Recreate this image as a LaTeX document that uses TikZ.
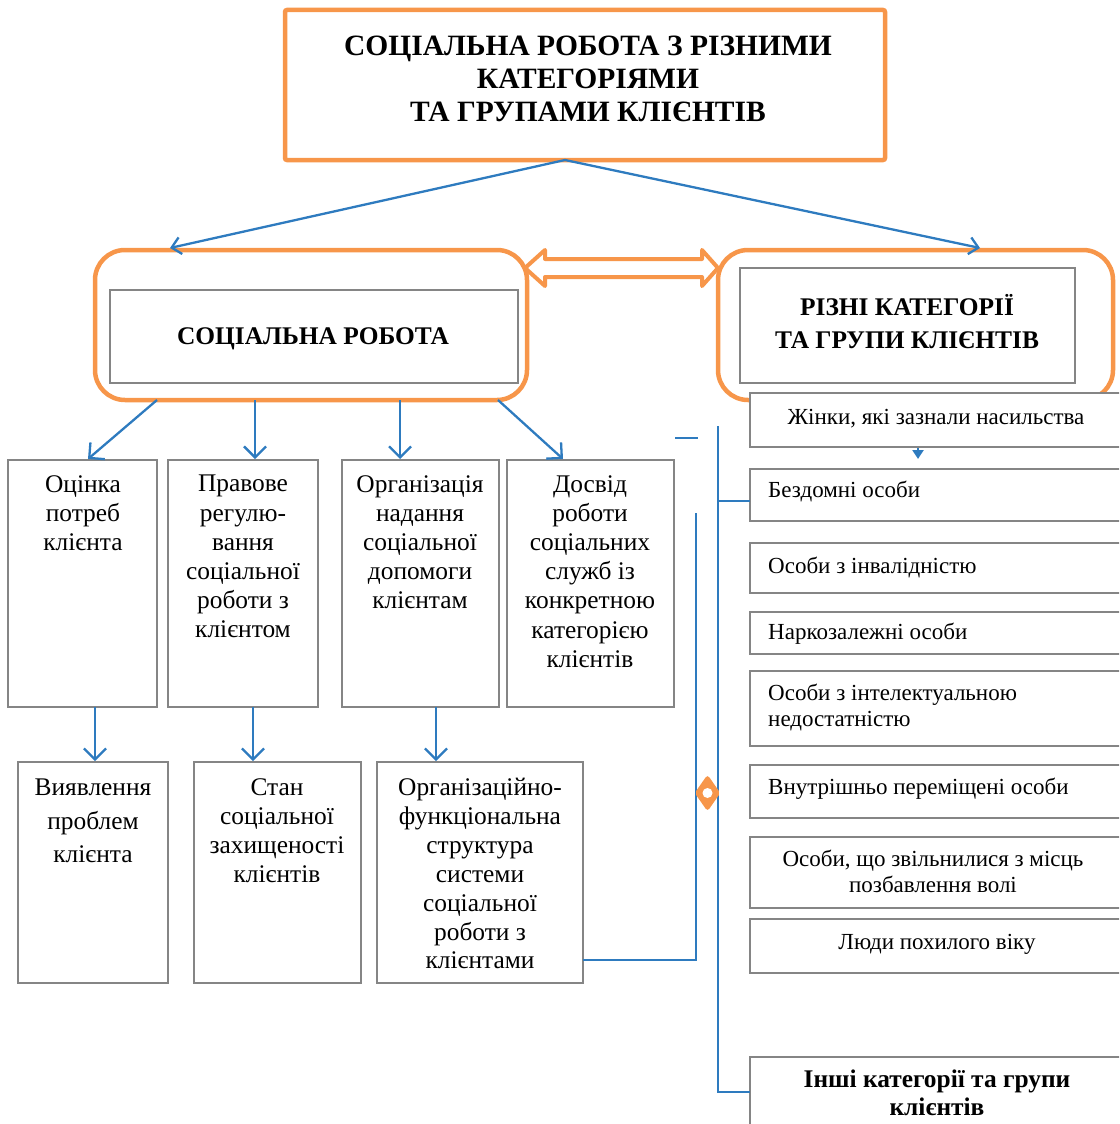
\documentclass[tikz,border=0pt]{standalone}
\usepackage{fontspec}
\setmainfont{Liberation Serif}
\usetikzlibrary{arrows.meta,calc,shapes.geometric}
\definecolor{orC}{HTML}{F7964A}
\definecolor{blC}{HTML}{2E7BBF}
\definecolor{grC}{HTML}{858585}
\newcommand\mkbox[6]{\node[#1, minimum width={#4-#2}, minimum height={#5-#3}] (#6) at ({(#2+#4)/2},{(#3+#5)/2}) {};}
\begin{document}
\begin{tikzpicture}[x=1pt,y=-1pt,
  obox/.style={draw=orC, line width=4.5pt, inner sep=0pt, outer sep=0pt},
  rbox/.style={obox, rounded corners=30pt},
  gbox/.style={draw=grC, line width=1.4pt, fill=white, inner sep=0pt, outer sep=0pt},
  conn/.style={draw=blC, line width=2.3pt},
  arr/.style={conn, -{Straight Barb[length=11pt,width=22pt]}},
  tarr/.style={conn, -{Straight Barb[length=9pt,width=17pt]}},
  body/.style={inner sep=0pt, align=center, font=\fontsize{25.4}{29.2}\selectfont, execute at begin node=\strut},
  rbody/.style={inner sep=0pt, align=left, font=\fontsize{23}{26}\selectfont, execute at begin node=\strut},
  ttl/.style={inner sep=0pt, align=center, font=\bfseries\fontsize{29.5}{33}\selectfont, execute at begin node=\strut},
  stl/.style={inner sep=0pt, align=center, font=\bfseries\fontsize{25.4}{33}\selectfont, execute at begin node=\strut},
]
\useasboundingbox (0,0) rectangle (1119,1124);
\clip (0,0) rectangle (1119,1124);

% top box
\node[obox, rounded corners=2pt, minimum width=600pt, minimum height=150pt] (top) at (585,85) {};
\node[ttl, anchor=north] (topt) at (588,36) {СОЦІАЛЬНА РОБОТА З РІЗНИМИ\\КАТЕГОРІЯМИ\\ТА ГРУПАМИ КЛІЄНТІВ};

% second level
\mkbox{rbox}{95}{250}{527}{400}{lbox}
\mkbox{gbox}{110}{290}{518}{383}{lin}
\node[stl, anchor=north] (lint) at (313,321.5) {СОЦІАЛЬНА РОБОТА};
\mkbox{rbox}{718}{250}{1113}{400}{rbox}
\mkbox{gbox}{740}{268}{1075}{383}{rin}
\node[stl, anchor=north] (rint) at (907,294) {РІЗНІ КАТЕГОРІЇ\\ТА ГРУПИ КЛІЄНТІВ};

% top connectors
\draw[tarr] ($(top.south)+(-20,0)$) -- ($(lbox.north west)+(75,-2)$);
\draw[tarr] ($(top.south)+(-20,0)$) -- ($(rbox.north west)+(262,-2)$);

% double arrow
\draw[orC, line width=4pt, fill=white, line join=round]
  (525,268) -- (545,250) -- (545,259) -- (702,259) -- (702,250) -- (718,268)
  -- (702,286) -- (702,277) -- (545,277) -- (545,286) -- cycle;

% row 1
\mkbox{gbox}{8}{460}{157}{707}{b1}
\mkbox{gbox}{168}{460}{318}{707}{b2}
\mkbox{gbox}{342}{460}{499}{707}{b3}
\mkbox{gbox}{507}{460}{674}{707}{b4}
\node[body, anchor=north] (b1t) at (83,475) {Оцінка\\потреб\\клієнта};
\node[body, anchor=north] (b2t) at (243,475) {Правове\\регулю-\\вання\\соціальної\\роботи з\\клієнтом};
\node[body, anchor=north] (b3t) at (420,475) {Організація\\надання\\соціальної\\допомоги\\клієнтам};
\node[body, anchor=north] (b4t) at (590,475) {Досвід\\роботи\\соціальних\\служб із\\конкретною\\категорією\\клієнтів};

% row 2
\mkbox{gbox}{18}{762}{168}{983}{c1}
\mkbox{gbox}{194}{762}{361}{983}{c2}
\mkbox{gbox}{377}{762}{583}{983}{c3}
\node[body, anchor=north, font=\fontsize{25.4}{33.5}\selectfont] (c1t) at (93,779) {Виявлення\\проблем\\клієнта};
\node[body, anchor=north] (c2t) at (277,778) {Стан\\соціальної\\захищеності\\клієнтів};
\node[body, anchor=north, font=\fontsize{25.4}{28.9}\selectfont] (c3t) at (480,778) {Організаційно-\\функціональна\\структура\\системи\\соціальної\\роботи з\\клієнтами};

% arrows from social work box
\draw[arr] ($(lbox.south west)+(62,0)$) -- ($(b1.north)+(5.5,-1)$);
\draw[arr] ($(lbox.south west)+(160,0)$) -- ($(b2.north)+(12,-1)$);
\draw[arr] ($(lbox.south west)+(305,0)$) -- ($(b3.north)+(-20.5,-1)$);
\draw[arr] ($(lbox.south west)+(403,0)$) -- ($(b4.north)+(-27.5,-1)$);
% row 1 to row 2
\draw[arr] ($(b1.south)+(12.5,0)$) -- ($(c1.north)+(2,-1)$);
\draw[arr] ($(b2.south)+(10,0)$) -- ($(c2.north)+(-24.5,-1)$);
\draw[arr] ($(b3.south)+(15.5,0)$) -- ($(c3.north)+(-44,-1)$);

% right column
\mkbox{gbox}{750}{393}{1130}{447}{r1}
\mkbox{gbox}{750}{469}{1130}{521}{r2}
\mkbox{gbox}{750}{543}{1130}{593}{r3}
\mkbox{gbox}{750}{612}{1130}{654}{r4}
\mkbox{gbox}{750}{671}{1130}{746}{r5}
\mkbox{gbox}{750}{765}{1130}{818}{r6}
\mkbox{gbox}{750}{837}{1130}{908}{r7}
\mkbox{gbox}{750}{919}{1130}{973}{r8}
\mkbox{gbox}{750}{1057}{1130}{1140}{r9}
\node[rbody, anchor=base] (r1t) at (936,424) {Жінки, які зазнали насильства};
\node[rbody, anchor=base west] (r2t) at (768,497) {Бездомні особи};
\node[rbody, anchor=base west] (r3t) at (768,573) {Особи з інвалідністю};
\node[rbody, anchor=base west] (r4t) at (768,639) {Наркозалежні особи};
\node[rbody, anchor=north west] (r5t) at (768,684) {Особи з інтелектуальною\\недостатністю};
\node[rbody, anchor=base west] (r6t) at (768,794) {Внутрішньо переміщені особи};
\node[rbody, align=center, anchor=north] (r7t) at (933,850) {Особи, що звільнилися з місць\\позбавлення волі};
\node[rbody, anchor=base] (r8t) at (937,949) {Люди похилого віку};
\node[rbody, align=center, anchor=north, font=\bfseries\fontsize{25.4}{28}\selectfont] (r9t) at (937,1070) {Інші категорії та групи\\клієнтів};

% small arrowhead under first category
\coordinate (sa) at ($(r1.south west)+(168,1)$);
\draw[conn, -{Triangle[length=9pt,width=11pt]}] (sa) -- ++(0,11);

% blue connector lines on the right
\coordinate (d1) at (675,438);
\coordinate (d2) at (698,438);
\draw[conn] (d1) -- (d2);
\coordinate (v1top) at (718,426);
\coordinate (r9j) at ($(r9.north west)+(0,35)$);
\draw[conn] (v1top) |- (r9j);
\coordinate (r2j) at ($(r2.north west)+(0,32)$);
\draw[conn] (r2j) -- (r2j -| v1top);
\coordinate (v2top) at (696,513);
\coordinate (c3j) at ($(c3.south east)+(0,-23)$);
\draw[conn] (v2top) |- (c3j);

% diamond
\node[diamond, fill=orC, draw=orC, line width=2pt, rounded corners=2pt, minimum width=24pt, minimum height=34pt, inner sep=0pt] (dmd) at (707.5,793) {};
\node[circle, fill=white, minimum size=10pt, inner sep=0pt] (dmdc) at (dmd.center) {};
\end{tikzpicture}
\end{document}
